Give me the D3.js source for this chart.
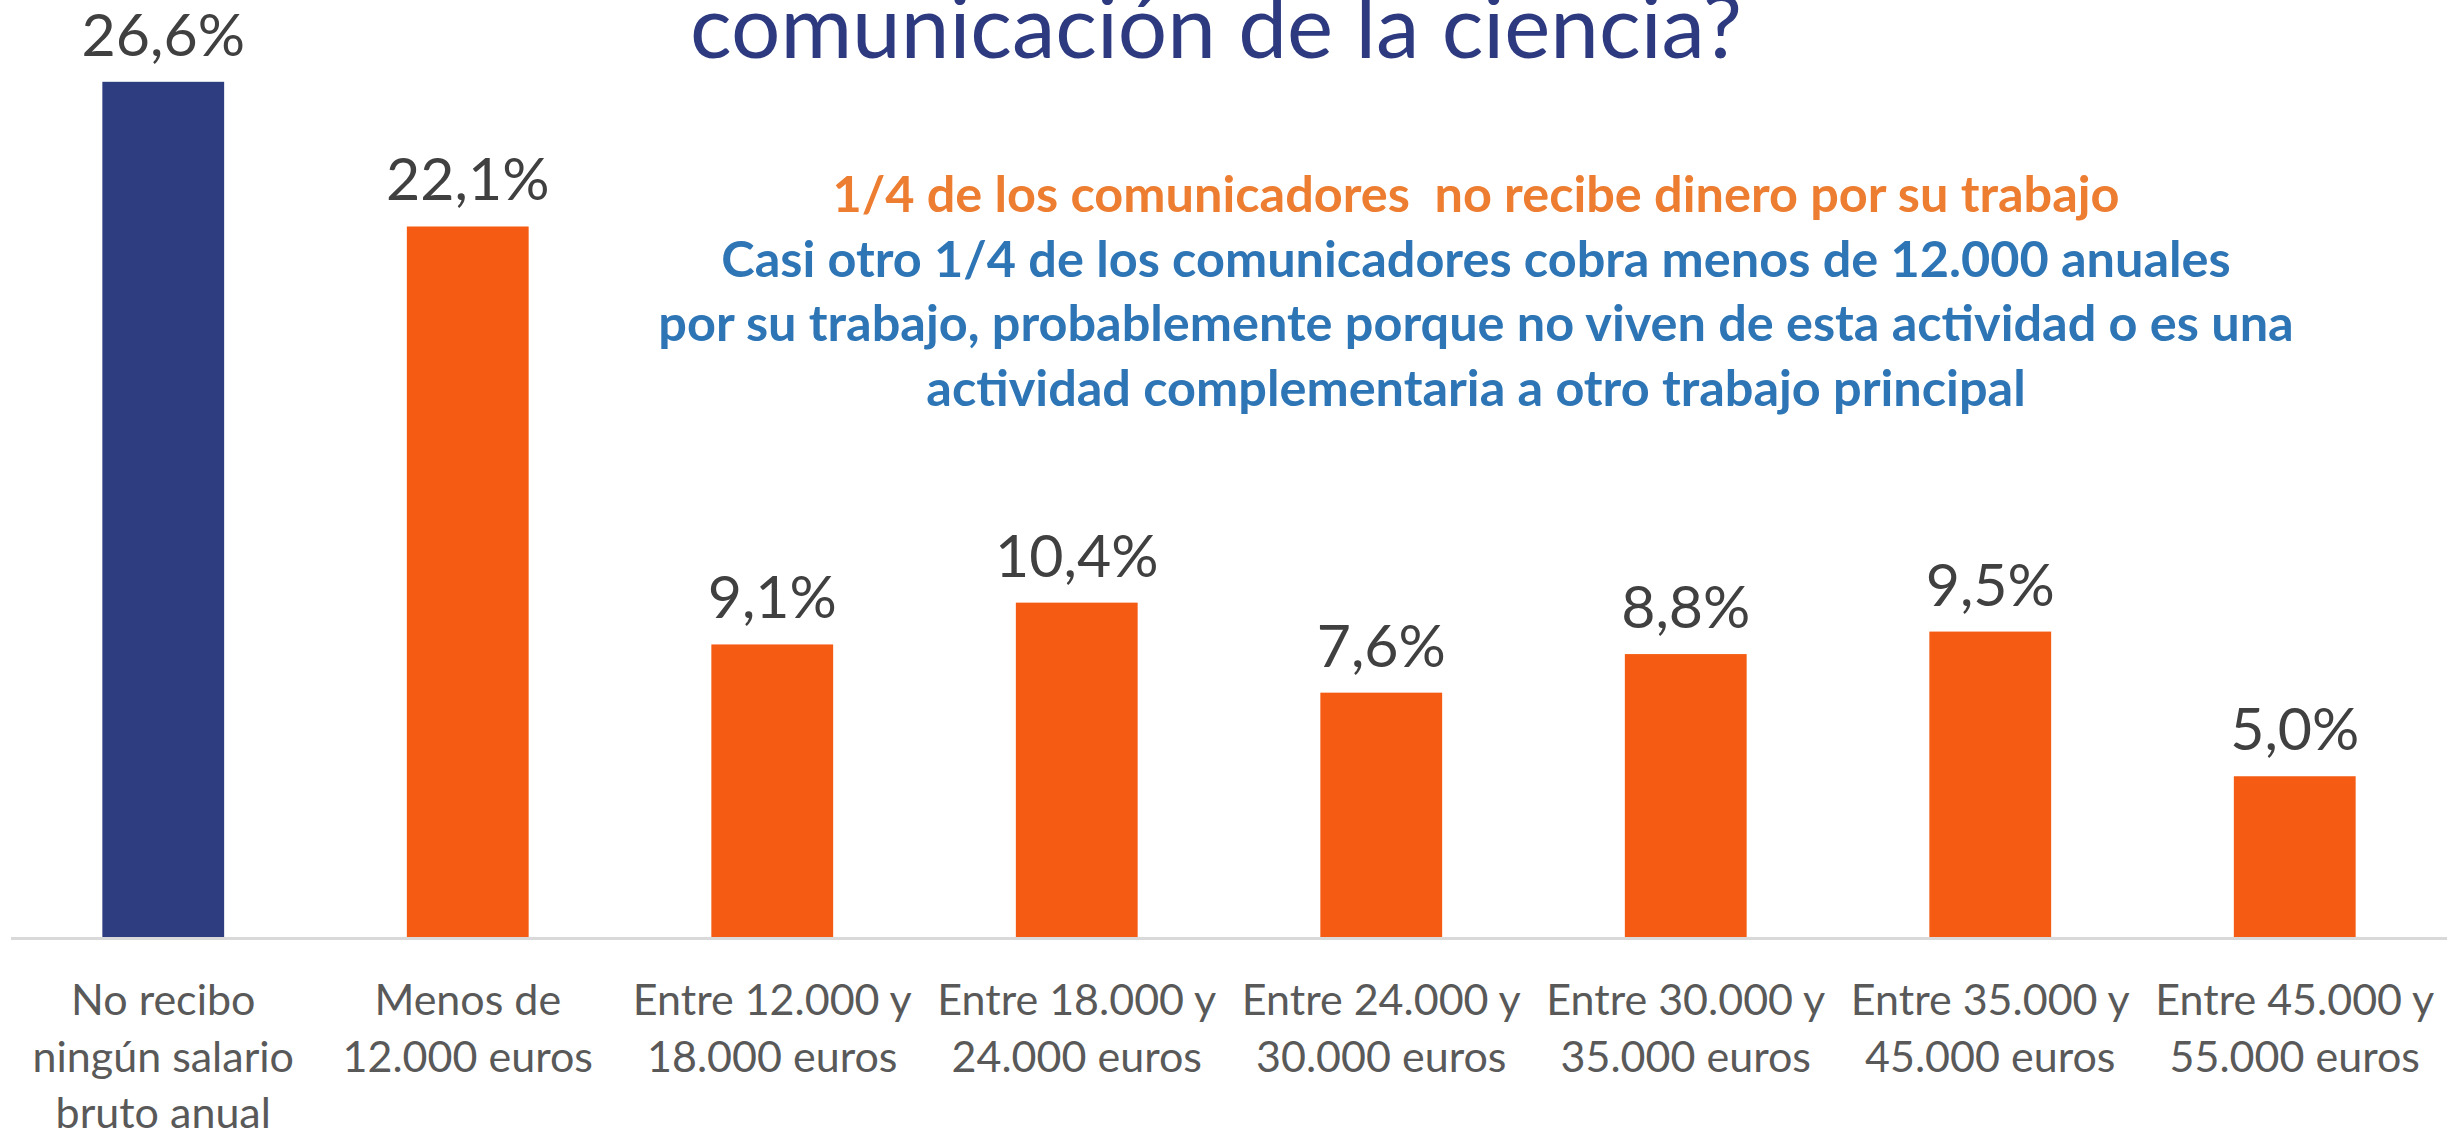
<!DOCTYPE html>
<html>
<head>
<meta charset="utf-8">
<script src="https://cdn.jsdelivr.net/npm/d3@7"></script>
<style>
  html, body { margin: 0; padding: 0; background: #ffffff; overflow: hidden; }
  svg { display: block; }
  text { white-space: pre; }
</style>
</head>
<body>
<svg id="chart" width="2461" height="1133"></svg>
<script>
// ---- data ----
const categories = [
  ["No recibo", "ningún salario", "bruto anual"],
  ["Menos de", "12.000 euros"],
  ["Entre 12.000 y", "18.000 euros"],
  ["Entre 18.000 y", "24.000 euros"],
  ["Entre 24.000 y", "30.000 euros"],
  ["Entre 30.000 y", "35.000 euros"],
  ["Entre 35.000 y", "45.000 euros"],
  ["Entre 45.000 y", "55.000 euros"]
];
const values = [26.6, 22.1, 9.1, 10.4, 7.6, 8.8, 9.5, 5.0];
const titleText = "comunicación de la ciencia?";
const noteOrange = ["1/4 de los comunicadores  no recibe dinero por su trabajo"];
const noteBlue = [
  "Casi otro 1/4 de los comunicadores cobra menos de 12.000 anuales",
  "por su trabajo, probablemente porque no viven de esta actividad o es una",
  "actividad complementaria a otro trabajo principal"
];

// ---- layout ----
const W = 2461, H = 1133;
const baseY = 937;
const FONT = "Lato, 'Open Sans', 'Noto Sans', sans-serif";
const svg = d3.select("#chart");

const locale = d3.formatLocale({decimal: ",", thousands: ".", grouping: [3], currency: ["", "€"]});
const fmt = v => locale.format(".1f")(v) + "%";

const idx = categories.map((c, i) => i);
const x = d3.scaleBand().domain(idx).range([11, 2447]).paddingInner(0.6).paddingOuter(0.3);
const y = d3.scaleLinear().domain([0, 28]).range([baseY, baseY - 28 * 32.15]);

// bars
svg.append("g").selectAll("rect").data(values).join("rect")
  .attr("x", (d, i) => x(i))
  .attr("width", x.bandwidth())
  .attr("y", d => y(d))
  .attr("height", d => y(0) - y(d))
  .attr("fill", (d, i) => i === 0 ? "#2E3D7F" : "#F55B12");

// axis line
const axis = svg.append("g").attr("transform", `translate(0,${baseY})`)
  .call(d3.axisBottom(x).tickSize(0).tickFormat(""));
axis.select(".domain").attr("stroke", "#D9D9D9").attr("stroke-width", 3)
  .attr("d", `M11,1.5H2447`);

// category labels
const catG = svg.append("g");
categories.forEach((lines, i) => {
  const t = catG.append("text")
    .attr("text-anchor", "middle")
    .attr("font-family", FONT)
    .attr("font-size", 43)
    .attr("fill", "#595959");
  lines.forEach((ln, j) => {
    t.append("tspan").attr("x", x(i) + x.bandwidth() / 2).attr("y", 1015 + j * 56.5).text(ln);
  });
});

// value labels
svg.append("g").selectAll("text").data(values).join("text")
  .attr("x", (d, i) => x(i) + x.bandwidth() / 2)
  .attr("y", d => y(d) - 26)
  .attr("text-anchor", "middle")
  .attr("font-family", FONT)
  .attr("font-size", 59)
  .attr("fill", "#404040")
  .text(d => fmt(d));

// title (partially cut at top, as in the reference)
const title = svg.append("text")
  .attr("x", 1216).attr("y", 58)
  .attr("text-anchor", "middle")
  .attr("font-family", FONT)
  .attr("font-size", 86)
  .attr("fill", "#2E3A80")
  .text(titleText);
{
  const w = title.node().getComputedTextLength();
  title.attr("font-size", 86 * 1052 / w);
}

// annotation
const noteG = svg.append("g").attr("font-family", FONT).attr("font-weight", 700).attr("text-anchor", "middle");
const allNotes = noteOrange.map(t => ({t, c: "#ED7D31"})).concat(noteBlue.map(t => ({t, c: "#2E75B6"})));
const noteTexts = allNotes.map((n, i) => noteG.append("text")
  .attr("x", 1476).attr("y", 212 + i * 64.5)
  .attr("xml:space", "preserve")
  .attr("font-size", 44).attr("fill", n.c).text(n.t));
{
  const w = noteTexts[2].node().getComputedTextLength();
  const fs = 44 * 1636 / w;
  noteTexts.forEach(t => t.attr("font-size", fs));
}
</script>
</body>
</html>
